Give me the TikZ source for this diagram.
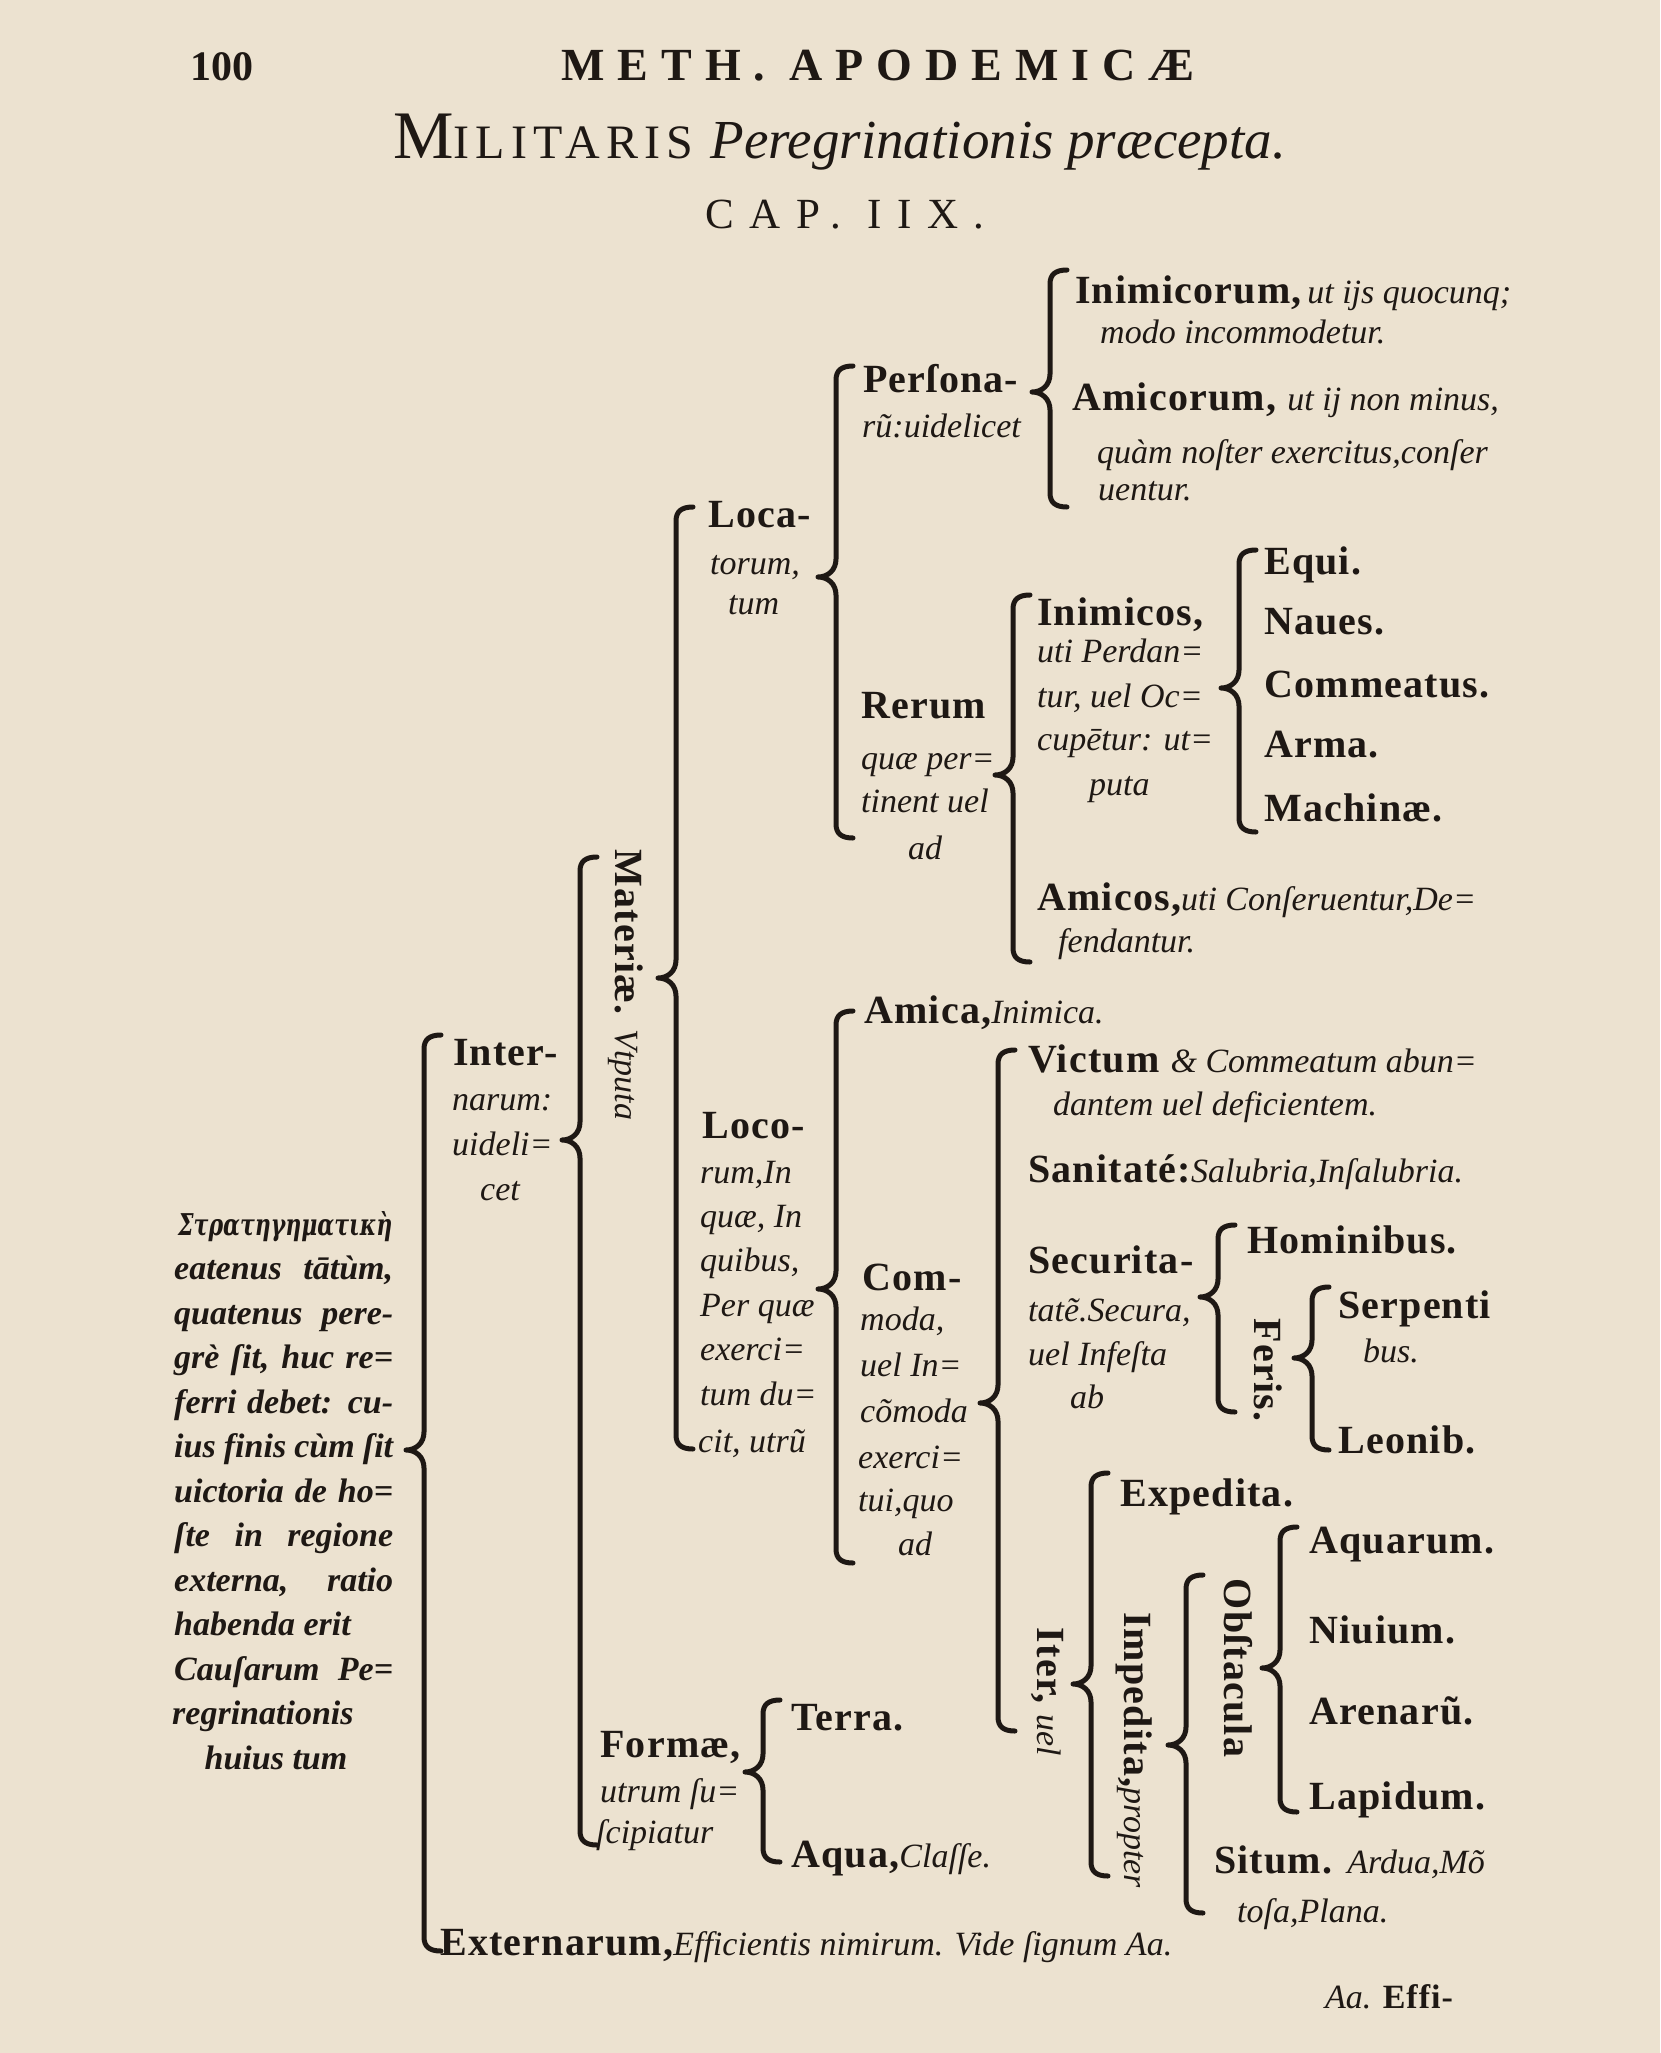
\documentclass[tikz,border=0pt]{standalone}
\usepackage{graphicx}
\usepackage{fontspec}
\setmainfont{Liberation Serif}
\newfontfamily\grkf{DejaVu Serif}
\newfontfamily\hdsp[LetterSpace=28]{Liberation Serif}
\newfontfamily\capsp[LetterSpace=36]{Liberation Serif}
\newfontfamily\smsp[LetterSpace=13]{Liberation Serif}
\newfontfamily\labf[LetterSpace=3]{Liberation Serif}
\definecolor{paper}{RGB}{236,226,208}
\definecolor{ink}{RGB}{30,24,20}
\newcommand\RL{\labf\fontsize{40}{48}\selectfont\bfseries\upshape}
\newcommand\IT{\rmfamily\fontsize{34}{40}\selectfont\mdseries\itshape}
\newcommand\RB{\fontsize{34}{40}\selectfont\bfseries\itshape}
\newcommand\Brk[4]{\draw[brk] (#1+17,#2) .. controls (#1+6,#2) and (#1,#2+4) .. (#1,#2+14)
  -- (#1,#3-18) .. controls (#1,#3-7) and (#1-8,#3) .. (#1-18,#3)
  .. controls (#1-8,#3) and (#1,#3+7) .. (#1,#3+18)
  -- (#1,#4-14) .. controls (#1,#4-4) and (#1+6,#4) .. (#1+17,#4);}
\begin{document}
\begin{tikzpicture}[x=1pt,y=-1pt,
  tx/.style={anchor=base west,inner sep=0pt,text=ink},
  cx/.style={anchor=base,inner sep=0pt,text=ink},
  rot/.style={rotate=-90,anchor=center,inner sep=0pt,text=ink},
  brk/.style={draw=ink,line width=5pt,line cap=round,line join=round}]
\path[use as bounding box,fill=paper] (0,0) rectangle (1660,2053);

% header
\node[tx] (pg) at (190,80) {\fontsize{42}{42}\selectfont\bfseries 100};
\node[cx] (meth) at (878,80) {\hdsp\fontsize{46}{46}\selectfont\bfseries METH.\ APODEMICÆ};
\node[tx] (tit) at (393,158) {\fontsize{68}{68}\selectfont M{\smsp\fontsize{48}{48}\selectfont ILITARIS} {\fontsize{55}{55}\selectfont\itshape Peregrinationis præcepta.}};
\node[cx] (cap) at (845,228) {\capsp\fontsize{43}{43}\selectfont CAP.\ IIX.};

% braces
\Brk{424}{1035}{1450}{1951}
\Brk{580}{857}{1140}{1845}
\Brk{676}{507}{978}{1449}
\Brk{836}{366}{577}{838}
\Brk{1050}{270}{392}{507}
\Brk{1013}{595}{775}{962}
\Brk{1239}{550}{688}{832}
\Brk{836}{1011}{1289}{1563}
\Brk{998}{1050}{1403}{1731}
\Brk{1218}{1225}{1297}{1412}
\Brk{1312}{1287}{1358}{1450}
\Brk{1091}{1473}{1684}{1876}
\Brk{1186}{1575}{1745}{1913}
\Brk{1280}{1527}{1668}{1812}
\Brk{763}{1700}{1772}{1862}

% root text
\node[tx] (r1) at (178,1235) {\resizebox{214pt}{24pt}{\grkf\fontsize{32}{40}\selectfont\bfseries\itshape Στρατηγηματικὴ}};
\node[tx] (r2) at (174,1279.5) {\RB\makebox[219pt][s]{eatenus tātùm,}};
\node[tx] (r3) at (174,1324) {\RB\makebox[219pt][s]{quatenus pere-}};
\node[tx] (r4) at (174,1368.5) {\RB\makebox[219pt][s]{grè ſit, huc re=}};
\node[tx] (r5) at (174,1413) {\RB\makebox[219pt][s]{ferri debet: cu-}};
\node[tx] (r6) at (174,1457.5) {\RB\makebox[219pt][s]{ius finis cùm ſit}};
\node[tx] (r7) at (174,1502) {\RB\makebox[219pt][s]{uictoria de ho=}};
\node[tx] (r8) at (174,1546.5) {\RB\makebox[219pt][s]{ſte in regione}};
\node[tx] (r9) at (174,1591) {\RB\makebox[219pt][s]{externa, ratio}};
\node[tx] (r10) at (174,1635.5) {\RB habenda erit};
\node[tx] (r11) at (174,1680) {\RB\makebox[219pt][s]{Cauſarum Pe=}};
\node[tx] (r12) at (172,1724.5) {\RB regrinationis};
\node[cx] (r13) at (276,1769) {\RB huius tum};

% Internarum
\node[tx] (in1) at (453,1065) {\RL Inter-};
\node[tx] (in2) at (452,1110) {\IT narum:};
\node[tx] (in3) at (452,1155) {\IT uideli=};
\node[tx] (in4) at (480,1200) {\IT cet};

\node[rot] (mat) at (626,985) {\RL Materiæ. {\IT Vtputa}};

% Locatorum
\node[tx] (loca1) at (708,527) {\RL Loca-};
\node[tx] (loca2) at (710,574) {\IT torum,};
\node[tx] (loca3) at (728,614) {\IT tum};

\node[tx] (pers1) at (863,392) {\RL Perſona-};
\node[tx] (pers2) at (862,437) {\IT rũ:uidelicet};

\node[tx] (inim1) at (1075,303) {\RL Inimicorum,{\IT\,ut ijs quocunq;}};
\node[tx] (inim2) at (1100,343) {\IT modo incommodetur.};
\node[tx] (amic1) at (1072,410) {\RL Amicorum, {\IT ut ij non minus,}};
\node[tx] (amic2) at (1097,463) {\IT quàm noſter exercitus,conſer};
\node[tx] (amic3) at (1098,500) {\IT uentur.};

\node[tx] (rer1) at (861,718) {\RL Rerum};
\node[tx] (rer2) at (861,769) {\IT quæ per=};
\node[tx] (rer3) at (861,812) {\IT tinent uel};
\node[tx] (rer4) at (908,859) {\IT ad};

\node[tx] (inos1) at (1037,625) {\RL Inimicos,};
\node[tx] (inos2) at (1037,662) {\IT uti Perdan=};
\node[tx] (inos3) at (1037,707) {\IT tur, uel Oc=};
\node[tx] (inos4) at (1037,750) {\IT cupētur: ut=};
\node[tx] (inos5) at (1089,795) {\IT puta};

\node[tx] (equi) at (1264,574) {\RL Equi.};
\node[tx] (naues) at (1264,634) {\RL Naues.};
\node[tx] (commea) at (1264,697) {\RL Commeatus.};
\node[tx] (arma) at (1264,757) {\RL Arma.};
\node[tx] (mach) at (1264,821) {\RL Machinæ.};

\node[tx] (amos1) at (1037,910) {\RL Amicos,{\IT uti Conſeruentur,De=}};
\node[tx] (amos2) at (1058,952) {\IT fendantur.};

% Locorum
\node[tx] (loco1) at (702,1138) {\RL Loco-};
\node[tx] (loco2) at (700,1183) {\IT rum,In};
\node[tx] (loco3) at (700,1227) {\IT quæ, In};
\node[tx] (loco4) at (700,1271) {\IT quibus,};
\node[tx] (loco5) at (700,1316) {\IT Per quæ};
\node[tx] (loco6) at (700,1360) {\IT exerci=};
\node[tx] (loco7) at (700,1405) {\IT tum du=};
\node[tx] (loco8) at (698,1452) {\IT cit, utrũ};

\node[tx] (amica) at (864,1023) {\RL Amica,{\IT Inimica.}};

\node[tx] (com1) at (862,1290) {\RL Com-};
\node[tx] (com2) at (860,1330) {\IT moda,};
\node[tx] (com3) at (860,1376) {\IT uel In=};
\node[tx] (com4) at (860,1422) {\IT cõmoda};
\node[tx] (com5) at (858,1468) {\IT exerci=};
\node[tx] (com6) at (858,1511) {\IT tui,quo};
\node[tx] (com7) at (898,1555) {\IT ad};

\node[tx] (vic1) at (1028,1072) {\RL Victum {\IT \& Commeatum abun=}};
\node[tx] (vic2) at (1053,1115) {\IT dantem uel deficientem.};
\node[tx] (san) at (1028,1182) {\RL Sanitaté:{\IT Salubria,Inſalubria.}};
\node[tx] (sec1) at (1028,1273) {\RL Securita-};
\node[tx] (sec2) at (1028,1321) {\IT tatẽ.Secura,};
\node[tx] (sec3) at (1028,1365) {\IT uel Infeſta};
\node[tx] (sec4) at (1070,1408) {\IT ab};

\node[tx] (hom) at (1247,1253) {\RL Hominibus.};
\node[rot] (fer) at (1268,1370) {\RL Feris.};
\node[tx] (serp1) at (1338,1318) {\RL Serpenti};
\node[tx] (serp2) at (1363,1362) {\IT bus.};
\node[tx] (leo) at (1338,1453) {\RL Leonib.};

\node[rot] (iter) at (1047,1692) {\RL Iter, {\IT uel}};
\node[tx] (exp) at (1120,1506) {\RL Expedita.};
\node[rot] (imp) at (1134,1750) {\RL Impedita,{\IT propter}};
\node[rot] (obs) at (1238,1668) {\RL Obſtacula};
\node[tx] (aqu) at (1309,1553) {\RL Aquarum.};
\node[tx] (niu) at (1309,1643) {\RL Niuium.};
\node[tx] (are) at (1309,1724) {\RL Arenarũ.};
\node[tx] (lap) at (1309,1809) {\RL Lapidum.};
\node[tx] (sit1) at (1214,1873) {\RL Situm. {\IT Ardua,Mõ}};
\node[tx] (sit2) at (1237,1922) {\IT toſa,Plana.};

% Formae
\node[tx] (for1) at (600,1757) {\RL Formæ,};
\node[tx] (for2) at (600,1802) {\IT utrum ſu=};
\node[tx] (for3) at (596,1843) {\IT ſcipiatur};
\node[tx] (terra) at (791,1730) {\RL Terra.};
\node[tx] (aqc) at (791,1867) {\RL Aqua,{\IT Claſſe.}};

\node[tx] (ext) at (440,1955) {\RL Externarum,{\IT Efficientis nimirum. Vide ſignum Aa.}};
\node[tx] (aa) at (1325,2008) {\IT Aa. {\labf\bfseries\upshape Effi-}};
\end{tikzpicture}
\end{document}
